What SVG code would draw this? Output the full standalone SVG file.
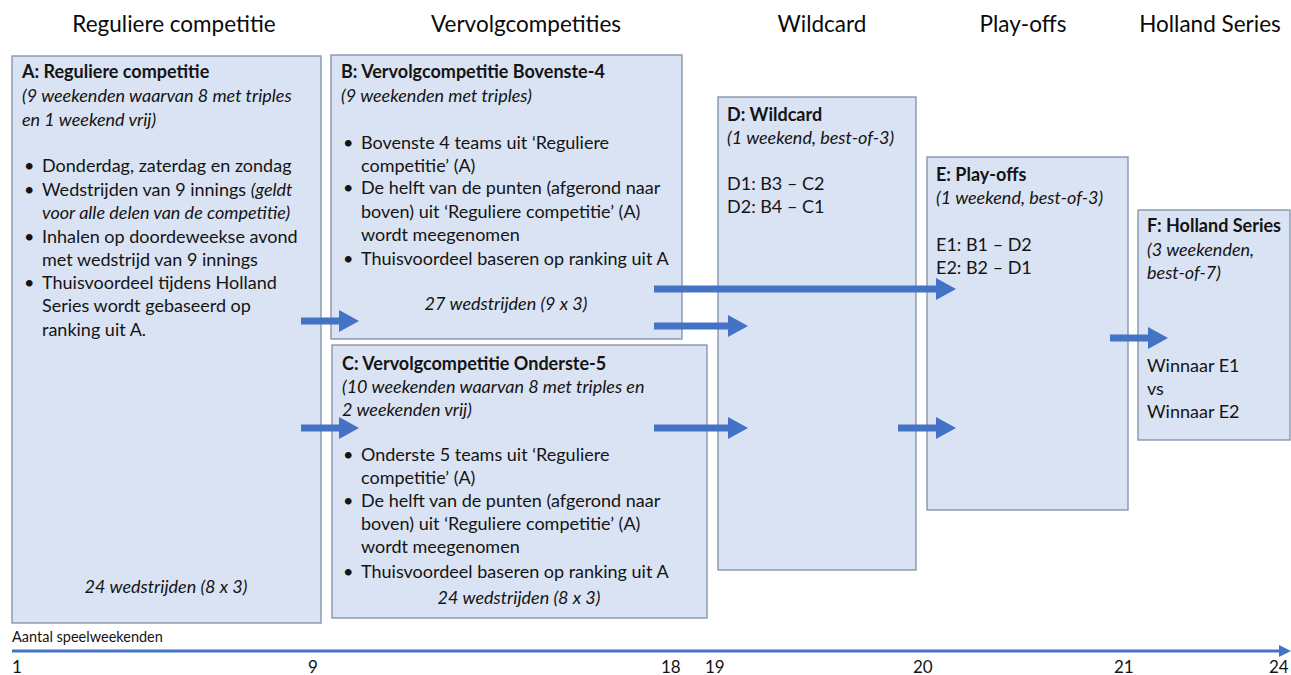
<svg xmlns="http://www.w3.org/2000/svg" width="1291" height="675" viewBox="0 0 1291 675">
<style>
  text { font-family: Lato, "Liberation Sans", sans-serif; fill: #141414; }
  .hdr { font-size: 22.5px; fill: #0a0a0a; }
  .t { font-size: 18px; }
  .b { font-weight: bold; }
  .i { font-style: italic; }
  .box { fill: #dae3f3; stroke: #7f8fa8; stroke-width: 1.3; }
  .arr { stroke: #4472c4; stroke-width: 7; fill: none; marker-end: url(#ah); }
  .ax { font-size: 17px; }
</style>
<defs>
  <marker id="ah" markerUnits="userSpaceOnUse" markerWidth="20" markerHeight="22" refX="0" refY="11" orient="auto">
    <path d="M0,0 L20,11 L0,22 z" fill="#4472c4"/>
  </marker>
  <marker id="axh" markerUnits="userSpaceOnUse" markerWidth="12" markerHeight="12" refX="0" refY="6" orient="auto">
    <path d="M0,0 L12,6 L0,12 z" fill="#4472c4"/>
  </marker>
</defs>
<rect width="1291" height="675" fill="#ffffff"/>

<g id="headers">
  <text class="hdr" x="174" y="32" text-anchor="middle">Reguliere competitie</text>
  <text class="hdr" x="526" y="32" text-anchor="middle">Vervolgcompetities</text>
  <text class="hdr" x="822" y="32" text-anchor="middle">Wildcard</text>
  <text class="hdr" x="1023" y="32" text-anchor="middle">Play-offs</text>
  <text class="hdr" x="1210" y="32" text-anchor="middle">Holland Series</text>
</g>

<g id="nodeA">
  <rect class="box" x="12" y="56" width="309" height="567"/>
  <text class="t b" x="22" y="78">A: Reguliere competitie</text>
  <text class="t i" x="22" y="102">(9 weekenden waarvan 8 met triples</text>
  <text class="t i" x="22" y="126">en 1 weekend vrij)</text>
  <text class="t" x="24" y="172">•</text><text class="t" x="42" y="172">Donderdag, zaterdag en zondag</text>
  <text class="t" x="24" y="196">•</text><text class="t" x="42" y="196">Wedstrijden van 9 innings <tspan class="i">(geldt</tspan></text>
  <text class="t i" x="42" y="219">voor alle delen van de competitie)</text>
  <text class="t" x="24" y="243">•</text><text class="t" x="42" y="243">Inhalen op doordeweekse avond</text>
  <text class="t" x="42" y="266">met wedstrijd van 9 innings</text>
  <text class="t" x="24" y="289">•</text><text class="t" x="42" y="289">Thuisvoordeel tijdens Holland</text>
  <text class="t" x="42" y="312">Series wordt gebaseerd op</text>
  <text class="t" x="42" y="336">ranking uit A.</text>
  <text class="t i" x="166" y="593" text-anchor="middle">24 wedstrijden (8 x 3)</text>
</g>

<g id="nodeB">
  <rect class="box" x="331" y="55" width="351" height="284"/>
  <text class="t b" x="341" y="78">B: Vervolgcompetitie Bovenste-4</text>
  <text class="t i" x="341" y="102">(9 weekenden met triples)</text>
  <text class="t" x="343" y="149">•</text><text class="t" x="361" y="149">Bovenste 4 teams uit ‘Reguliere</text>
  <text class="t" x="361" y="172">competitie’ (A)</text>
  <text class="t" x="343" y="194">•</text><text class="t" x="361" y="194">De helft van de punten (afgerond naar</text>
  <text class="t" x="361" y="218">boven) uit ‘Reguliere competitie’ (A)</text>
  <text class="t" x="361" y="241">wordt meegenomen</text>
  <text class="t" x="343" y="265">•</text><text class="t" x="361" y="265">Thuisvoordeel baseren op ranking uit A</text>
  <text class="t i" x="506" y="310" text-anchor="middle">27 wedstrijden (9 x 3)</text>
</g>

<g id="nodeC">
  <rect class="box" x="332" y="345" width="375" height="273"/>
  <text class="t b" x="342" y="370">C: Vervolgcompetitie Onderste-5</text>
  <text class="t i" x="342" y="393">(10 weekenden waarvan 8 met triples en</text>
  <text class="t i" x="342" y="416">2 weekenden vrij)</text>
  <text class="t" x="343" y="461">•</text><text class="t" x="361" y="461">Onderste 5 teams uit ‘Reguliere</text>
  <text class="t" x="361" y="484">competitie’ (A)</text>
  <text class="t" x="343" y="507">•</text><text class="t" x="361" y="507">De helft van de punten (afgerond naar</text>
  <text class="t" x="361" y="530">boven) uit ‘Reguliere competitie’ (A)</text>
  <text class="t" x="361" y="553">wordt meegenomen</text>
  <text class="t" x="343" y="578">•</text><text class="t" x="361" y="578">Thuisvoordeel baseren op ranking uit A</text>
  <text class="t i" x="519" y="604" text-anchor="middle">24 wedstrijden (8 x 3)</text>
</g>

<g id="nodeD">
  <rect class="box" x="718" y="97" width="198" height="473"/>
  <text class="t b" x="727" y="121">D: Wildcard</text>
  <text class="t i" x="727" y="144">(1 weekend, best-of-3)</text>
  <text class="t" x="727" y="190">D1: B3 – C2</text>
  <text class="t" x="727" y="213">D2: B4 – C1</text>
</g>

<g id="nodeE">
  <rect class="box" x="927" y="157" width="201" height="353"/>
  <text class="t b" x="936" y="181">E: Play-offs</text>
  <text class="t i" x="936" y="204">(1 weekend, best-of-3)</text>
  <text class="t" x="936" y="251">E1: B1 – D2</text>
  <text class="t" x="936" y="274">E2: B2 – D1</text>
</g>

<g id="nodeF">
  <rect class="box" x="1138" y="210" width="152" height="230"/>
  <text class="t b" x="1147" y="232">F: Holland Series</text>
  <text class="t i" x="1147" y="256">(3 weekenden,</text>
  <text class="t i" x="1147" y="279">best-of-7)</text>
  <text class="t" x="1147" y="372">Winnaar E1</text>
  <text class="t" x="1147" y="395">vs</text>
  <text class="t" x="1147" y="418">Winnaar E2</text>
</g>

<g id="connectors">
  <line class="arr" x1="301" y1="321" x2="339" y2="321"/>
  <line class="arr" x1="301" y1="428" x2="339" y2="428"/>
  <line class="arr" x1="654" y1="289" x2="936" y2="289"/>
  <line class="arr" x1="654" y1="326" x2="728" y2="326"/>
  <line class="arr" x1="654" y1="428" x2="728" y2="428"/>
  <line class="arr" x1="898" y1="428" x2="936" y2="428"/>
  <line class="arr" x1="1110" y1="338" x2="1148" y2="338"/>
</g>

<g id="axis">
  <line x1="12" y1="651" x2="1279" y2="651" stroke="#4472c4" stroke-width="3" marker-end="url(#axh)"/>
  <text x="12" y="642" font-size="14.5px">Aantal speelweekenden</text>
  <text class="ax" x="12" y="673">1</text>
  <text class="ax" x="308" y="673">9</text>
  <text class="ax" x="661" y="673">18</text>
  <text class="ax" x="705" y="673">19</text>
  <text class="ax" x="913" y="673">20</text>
  <text class="ax" x="1114" y="673">21</text>
  <text class="ax" x="1269" y="673">24</text>
</g>
</svg>
